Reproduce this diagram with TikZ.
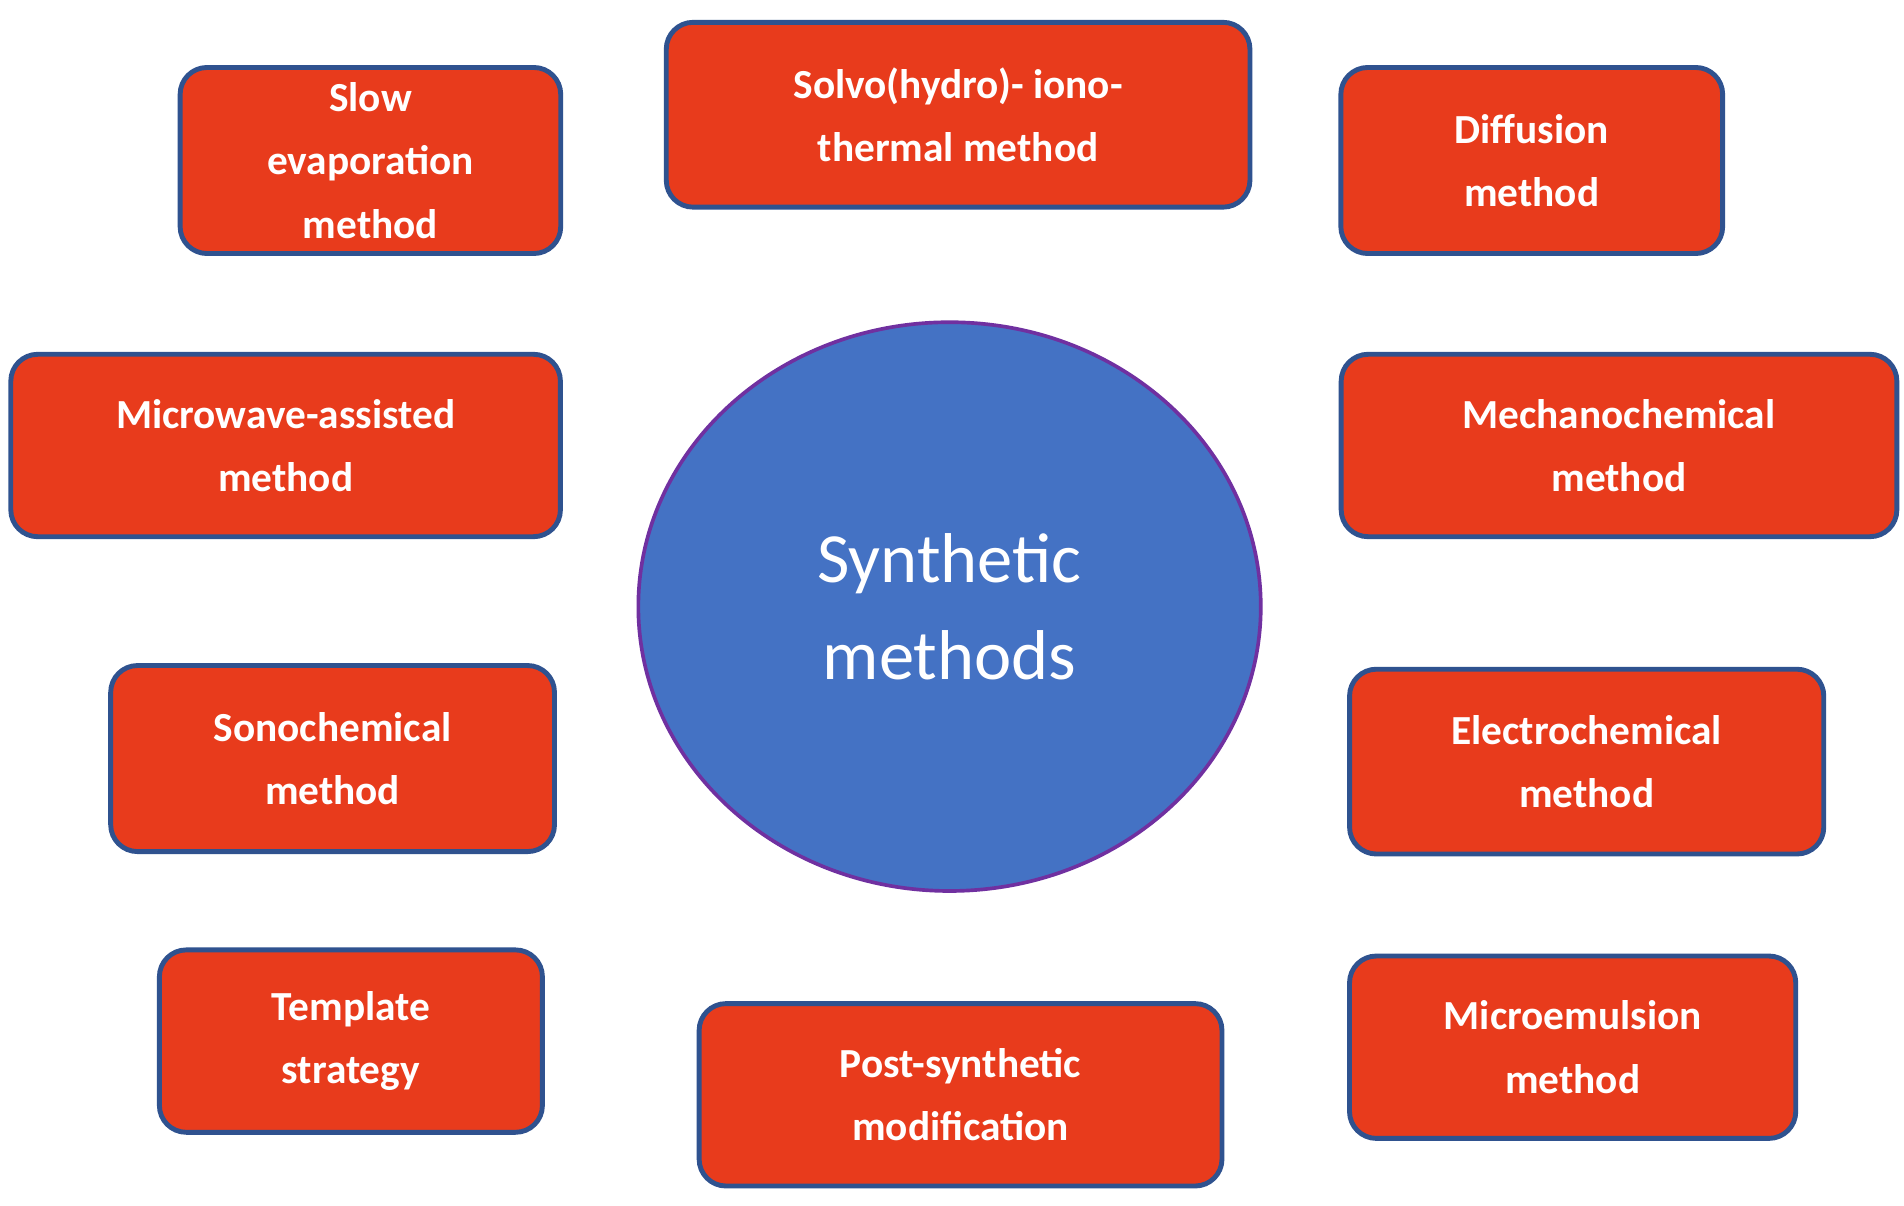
\documentclass[tikz,border=0pt]{standalone}
\usepackage{fontspec}
\setmainfont{Carlito}
\usetikzlibrary{shapes.geometric}
\definecolor{boxred}{HTML}{E83B1C}
\definecolor{boxedge}{HTML}{2F528F}
\definecolor{circblue}{HTML}{4472C4}
\definecolor{circedge}{HTML}{7030A0}
\begin{document}
\begin{tikzpicture}[x=1bp,y=-1bp,
  mbox/.style={draw=boxedge,line width=4bp,fill=boxred,rounded corners=22bp,
    text=white,align=center,font=\fontsize{34}{52}\selectfont\bfseries,inner sep=0pt}]
\useasboundingbox (0,0) rectangle (1560,988);
\fill[white] (0,0) rectangle (1560,988);
\newcommand{\mb}[6]{\node[mbox,minimum width=#3-#2,minimum height=#5-#4] (#1) at ({(#2+#3)/2},{(#4+#5)/2}) {#6};}
\mb{slow}{147}{460}{55}{208}{Slow\\evaporation\\method}
\mb{solvo}{545}{1025}{18}{170}{Solvo(hydro)- iono-\\thermal method}
\mb{diff}{1098}{1412}{55}{208}{Diffusion\\method}
\mb{micro}{8}{460}{290}{440}{Microwave-assisted\\method}
\mb{mech}{1098}{1555}{290}{440}{Mechanochemical\\method}
\mb{sono}{90}{455}{545}{698}{Sonochemical\\method}
\mb{elec}{1105}{1495}{548}{700}{Electrochemical\\method}
\mb{templ}{130}{445}{778}{928}{Template\\strategy}
\mb{post}{572}{1002}{822}{972}{Post-synthetic\\modification}
\mb{emul}{1105}{1472}{783}{933}{Microemulsion\\method}
\node[ellipse,draw=circedge,line width=3bp,fill=circblue,minimum width=510bp,minimum height=466bp,
  text=white,align=center,font=\fontsize{58}{80}\selectfont] (c) at (778,497) {Synthetic\\methods};
\end{tikzpicture}
\end{document}
